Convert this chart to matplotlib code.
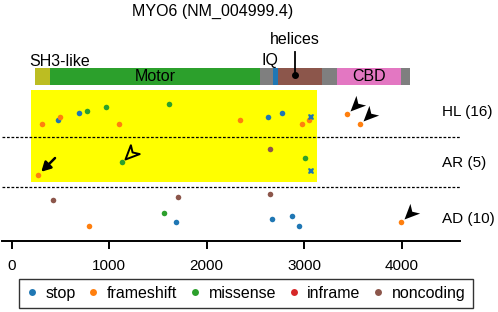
import matplotlib.pyplot as plt
import numpy as np
from matplotlib.lines import Line2D
from matplotlib.markers import MarkerStyle
from matplotlib.path import Path
from matplotlib.transforms import Affine2D, ScaledTranslation

plt.rcParams['font.family'] = ['Liberation Sans', 'DejaVu Sans']

# protein domains (cDNA position)
dom_names = ['SH3-like', 'Motor', '', 'IQ', 'helices', '', 'CBD', '']
dom_start = [236, 390, 2548, 2678, 2736, 3187, 3341, 3995]
dom_end = [390, 2548, 2678, 2736, 3187, 3341, 3995, 4091]

# variants per cohort: position, vertical jitter, type, x-marker flag
hl_pos = [314, 475, 496, 694, 770, 971, 1101, 1617, 2343, 2630, 2777, 2982, 3048, 3071, 3441, 3571]
hl_y = [117.3, 120.7, 124.3, 127.7, 130.3, 133.7, 117.3, 137, 121, 124, 127.7, 117.3, 120.7, 124, 127.3, 117]
hl_type = ['frameshift', 'stop', 'frameshift', 'stop', 'missense', 'missense', 'frameshift', 'missense',
           'frameshift', 'stop', 'stop', 'frameshift', 'frameshift', 'stop', 'frameshift', 'frameshift']
hl_cross = [0, 0, 0, 0, 0, 0, 0, 0, 0, 0, 0, 0, 0, 1, 0, 0]

ar_pos = [273, 1132, 2651, 3013, 3071]
ar_y = [66.3, 79, 91.7, 82.7, 69.7]
ar_type = ['frameshift', 'missense', 'noncoding', 'missense', 'stop']
ar_cross = [0, 0, 0, 0, 1]

ad_pos = [424, 793, 1560, 1686, 1710, 2651, 2674, 2873, 2951, 3998]
ad_y = [40.7, 15, 28, 18.7, 44, 47.3, 22, 25.3, 15, 18.7]
ad_type = ['noncoding', 'frameshift', 'missense', 'stop', 'noncoding', 'noncoding', 'stop', 'stop', 'stop', 'frameshift']
ad_cross = [0] * 10

cohort_labels = ['HL (16)', 'AR (5)', 'AD (10)']
cohort_label_y = [129, 78, 22]
separators = [104, 54]

types = ['stop', 'frameshift', 'missense', 'inframe', 'noncoding']
type_colors = {'stop': '#1f77b4', 'frameshift': '#ff7f0e', 'missense': '#2ca02c',
               'inframe': '#d62728', 'noncoding': '#8c564b'}
dom_colors = ['#bcbd22', '#2ca02c', '#7f7f7f', '#1f77b4', '#8c564b', '#7f7f7f', '#e377c2', '#7f7f7f']

fig = plt.figure(figsize=(4.98, 3.12), dpi=100)
ax = fig.add_axes([2 / 498, 71 / 312, 458 / 498, 241 / 312])
ax.set_xlim(-100, 4600)
ax.set_ylim(0, 241)

# highlighted region (motor + neck)
ax.axvspan(198, 3130, ymin=59.3 / 241, ymax=151 / 241, color='#ffff00', lw=0, zorder=0)

# domain bar
bar_y, bar_h = 156, 17
for s, e, c in zip(dom_start, dom_end, dom_colors):
    ax.broken_barh([(s, e - s)], (bar_y, bar_h), facecolors=c, zorder=2)
mid = lambda i: (dom_start[i] + dom_end[i]) / 2
ax.text(178, 180, 'SH3-like', fontsize=11.5, ha='left', va='center')
ax.text(mid(1), bar_y + bar_h / 2, 'Motor', fontsize=11.5, ha='center', va='center', zorder=3)
ax.text(mid(3) - 60, 180, 'IQ', fontsize=11.5, ha='center', va='center')
ax.text(mid(6), bar_y + bar_h / 2, 'CBD', fontsize=11.5, ha='center', va='center', zorder=3)
hx = 2907
ax.text(hx, 202, 'helices', fontsize=11.5, ha='center', va='center')
ax.plot([hx, hx], [189, 166], color='black', lw=1.3, zorder=3)
ax.plot([hx], [166], 'o', color='black', ms=4, zorder=3)
ax.text(2066, 230, 'MYO6 (NM_004999.4)', fontsize=11.5, ha='center', va='center')

for y in separators:
    ax.axhline(y, color='black', lw=0.9, dashes=(2.2, 1.4), zorder=1)
for lab, y in zip(cohort_labels, cohort_label_y):
    ax.text(4416, y, lab, fontsize=11, ha='left', va='center')

for pos, ys, tps, cr in [(hl_pos, hl_y, hl_type, hl_cross), (ar_pos, ar_y, ar_type, ar_cross),
                         (ad_pos, ad_y, ad_type, ad_cross)]:
    for x, y, t, c in zip(pos, ys, tps, cr):
        if c:
            ax.plot(x, y, 'X', color=type_colors[t], ms=4.5, mew=0, zorder=4)
        else:
            ax.plot(x, y, 'o', color=type_colors[t], ms=4, mew=0, zorder=4)

# arrowheads (stealth) pointing at selected variants
stealth = Path([(0, 0), (-1, 0.45), (-0.72, 0), (-1, -0.45), (0, 0)],
               [Path.MOVETO, Path.LINETO, Path.LINETO, Path.LINETO, Path.CLOSEPOLY])
head = MarkerStyle(stealth, transform=Affine2D().rotate_deg(225))


def arrowhead(x, y, filled=True):
    tr = ax.transData + ScaledTranslation(2.2 / 72, 2.2 / 72, fig.dpi_scale_trans)
    if filled:
        ax.plot(x, y, marker=head, ms=22, color='black', mew=0, transform=tr, zorder=5)
    else:
        ax.plot(x, y, marker=head, ms=20, mfc='none', mec='black', mew=1.4, transform=tr, zorder=5)


arrowhead(hl_pos[14], hl_y[14])
arrowhead(hl_pos[15], hl_y[15])
arrowhead(ad_pos[9], ad_y[9])
arrowhead(ar_pos[1], ar_y[1], filled=False)
ax.annotate('', xy=(ar_pos[0], ar_y[0]), xytext=(12, 12), textcoords='offset points',
            arrowprops=dict(arrowstyle='-|>,head_length=0.55,head_width=0.3', color='black',
                            lw=1.8, shrinkA=0, shrinkB=3), zorder=5)

for s in ['top', 'right', 'left']:
    ax.spines[s].set_visible(False)
ax.spines['bottom'].set_linewidth(1.4)
ax.set_yticks([])
ax.set_xticks([0, 1000, 2000, 3000, 4000])
ax.tick_params(axis='x', length=6, width=1.4, pad=7, labelsize=11)

handles = [Line2D([], [], marker='o', ls='', color=type_colors[t], ms=5, mew=0) for t in types]
leg = fig.legend(handles, types, loc='center', bbox_to_anchor=(246 / 498, 1 - 293.5 / 312), ncol=5,
                 fontsize=11.5, frameon=True, fancybox=False, edgecolor='black', handlelength=0.7,
                 handletextpad=0.5, columnspacing=0.75, borderpad=0.45)
leg.get_frame().set_linewidth(1.0)

fig.savefig('out.png', dpi=100)
